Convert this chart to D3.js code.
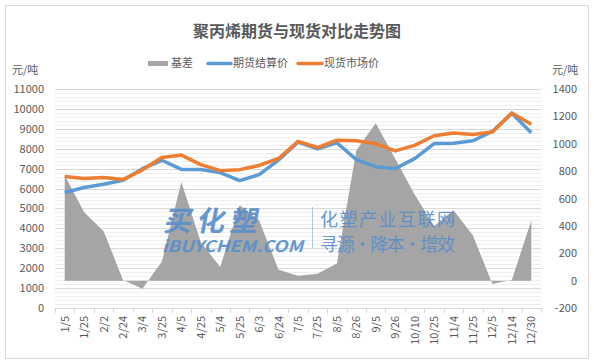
<!DOCTYPE html>
<html>
<head>
<meta charset="utf-8">
<script src="https://cdn.jsdelivr.net/npm/d3@7"></script>
<style>
  body { margin: 0; background: #fff; }
  #chart { width: 594px; height: 362px; }
  text { font-family: "Noto Sans CJK SC", "Liberation Sans", sans-serif; }
</style>
</head>
<body>
<div id="chart"></div>
<script>
// data
const dates = ["1/5","1/25","2/2","2/24","3/4","3/25","4/5","4/25","5/4","5/25","6/3","6/24",
    "7/5","7/25","8/5","8/26","9/5","9/26","10/10","10/25","11/4","11/25","12/5","12/14","12/30"];
const futures = [5800, 6050, 6220, 6420, 7000, 7420, 6960, 6960, 6800, 6400, 6700, 7430,
    8330, 8000, 8300, 7450, 7100, 7000, 7500, 8260, 8270, 8400, 8870, 9780, 8800];
const spot = [6600, 6500, 6560, 6450, 6940, 7560, 7680, 7200, 6900, 6950, 7160, 7510,
    8370, 8060, 8430, 8400, 8250, 7890, 8170, 8650, 8790, 8720, 8845, 9800, 9230];
const basis = [770, 500, 360, 5, -60, 140, 720, 280, 100, 550, 440, 80,
    35, 50, 125, 950, 1150, 890, 630, 400, 515, 330, -25, 5, 440];
const leftTicks = [0,1000,2000,3000,4000,5000,6000,7000,8000,9000,10000,11000];
const rightTicks = [-200,0,200,400,600,800,1000,1200,1400];

const width = 594, height = 362;
const margin = {top: 89, left: 55, right: 53, bottom: 54};

const svg = d3.select("#chart").append("svg")
    .attr("width", width)
    .attr("height", height);

// outer border
svg.append("rect")
    .attr("x", 5.5).attr("y", 5.5)
    .attr("width", width - 11).attr("height", height - 9)
    .attr("fill", "#fff")
    .attr("stroke", "#d9d9d9");

/*
SCALES
*/
const xScale = d3.scaleBand()
    .domain(dates)
    .range([margin.left, width - margin.right]);

const yLeft = d3.scaleLinear()
    .domain([0, 11000])
    .range([height - margin.bottom, margin.top]);

const yRight = d3.scaleLinear()
    .domain([-200, 1400])
    .range([height - margin.bottom, margin.top]);

const cx = function(d, i) { return xScale(dates[i]) + xScale.bandwidth() / 2; };

/*
GRIDLINES
*/
const minor = d3.range(0, 11001, 200).filter(function(v) { return v % 1000 !== 0; });
svg.append("g").selectAll("line")
    .data(minor)
    .enter().append("line")
    .attr("x1", margin.left).attr("x2", width - margin.right)
    .attr("y1", function(d) { return Math.round(yLeft(d)) + 0.5; })
    .attr("y2", function(d) { return Math.round(yLeft(d)) + 0.5; })
    .attr("stroke", "#efefef");

svg.append("g").selectAll("line")
    .data(leftTicks.slice(1))
    .enter().append("line")
    .attr("x1", margin.left).attr("x2", width - margin.right)
    .attr("y1", function(d) { return Math.round(yLeft(d)) + 0.5; })
    .attr("y2", function(d) { return Math.round(yLeft(d)) + 0.5; })
    .attr("stroke", "#d9d9d9");

/*
BASIS AREA (right axis)
*/
const area = d3.area()
    .x(cx)
    .y0(yRight(0))
    .y1(function(d) { return yRight(d); });

svg.append("path")
    .datum(basis)
    .attr("d", area)
    .attr("fill", "#a5a5a5");

/*
WATERMARK
*/
const wm = svg.append("g").attr("fill", "#5b8fcb").attr("opacity", 0.92);
wm.append("text")
    .attr("x", 166).attr("y", 231)
    .attr("font-size", 28).attr("font-weight", "bold")
    .attr("textLength", 94)
    .attr("transform", "translate(42,0) skewX(-11)")
    .text("买化塑");
wm.append("text")
    .attr("x", 162).attr("y", 252)
    .attr("font-family", "Liberation Sans")
    .attr("font-size", 16).attr("font-weight", "bold").attr("font-style", "italic")
    .attr("textLength", 141)
    .attr("lengthAdjust", "spacingAndGlyphs")
    .text("iBUYCHEM.COM");
wm.append("line")
    .attr("x1", 312.5).attr("x2", 312.5).attr("y1", 207).attr("y2", 248)
    .attr("stroke", "#9dc3e6");
wm.append("text")
    .attr("x", 320).attr("y", 226)
    .attr("font-size", 18)
    .attr("textLength", 135)
    .text("化塑产业互联网");
wm.append("text")
    .attr("x", 320).attr("y", 251)
    .attr("font-size", 18)
    .attr("textLength", 135)
    .text("寻源·降本·增效");

/*
LINES
*/
const line = d3.line()
    .x(cx)
    .y(function(d) { return yLeft(d); });

svg.append("path")
    .datum(futures)
    .attr("d", line)
    .attr("fill", "none")
    .attr("stroke", "#5b9bd5")
    .attr("stroke-width", 3.5)
    .attr("stroke-linejoin", "round");

svg.append("path")
    .datum(spot)
    .attr("d", line)
    .attr("fill", "none")
    .attr("stroke", "#ed7d31")
    .attr("stroke-width", 3.5)
    .attr("stroke-linejoin", "round");

/*
AXES
*/
const xAxis = svg.append("g")
    .attr("transform", `translate(0,${height - margin.bottom})`);
xAxis.append("line")
    .attr("x1", margin.left).attr("x2", width - margin.right)
    .attr("y1", 0.5).attr("y2", 0.5)
    .attr("stroke", "#d9d9d9");
xAxis.selectAll(".tk")
    .data(d3.range(dates.length + 1))
    .enter().append("line")
    .attr("x1", function(i) { return Math.round(margin.left + i * xScale.step()) + 0.5; })
    .attr("x2", function(i) { return Math.round(margin.left + i * xScale.step()) + 0.5; })
    .attr("y1", 0).attr("y2", 5)
    .attr("stroke", "#d9d9d9");
xAxis.selectAll(".lbl")
    .data(dates)
    .enter().append("text")
    .attr("transform", function(d) {
        return `translate(${xScale(d) + xScale.bandwidth() / 2 + 4},8) rotate(-90)`;
    })
    .attr("text-anchor", "end")
    .attr("font-size", 11)
    .attr("fill", "#595959")
    .text(function(d) { return d; });

svg.append("g").selectAll("text")
    .data(leftTicks)
    .enter().append("text")
    .attr("x", 44)
    .attr("y", function(d) { return yLeft(d) + 4; })
    .attr("text-anchor", "end")
    .attr("font-family", "Liberation Sans")
    .attr("font-size", 11)
    .attr("fill", "#595959")
    .text(function(d) { return d; });

svg.append("g").selectAll("text")
    .data(rightTicks)
    .enter().append("text")
    .attr("x", 577)
    .attr("y", function(d) { return yRight(d) + 4; })
    .attr("text-anchor", "end")
    .attr("font-family", "Liberation Sans")
    .attr("font-size", 11)
    .attr("fill", "#595959")
    .text(function(d) { return d; });

// unit labels
svg.append("text")
    .attr("x", 12).attr("y", 74)
    .attr("font-size", 11).attr("fill", "#595959")
    .text("元/吨");
svg.append("text")
    .attr("x", 552).attr("y", 74)
    .attr("font-size", 11).attr("fill", "#595959")
    .text("元/吨");

/*
TITLE
*/
svg.append("text")
    .attr("x", 297).attr("y", 37)
    .attr("text-anchor", "middle")
    .attr("font-size", 16)
    .attr("font-weight", "bold")
    .attr("fill", "#595959")
    .text("聚丙烯期货与现货对比走势图");

/*
LEGEND
*/
const legend = svg.append("g").attr("font-size", 11).attr("fill", "#595959");
legend.append("rect")
    .attr("x", 148).attr("y", 61).attr("width", 20).attr("height", 5)
    .attr("fill", "#a5a5a5");
legend.append("text").attr("x", 171).attr("y", 67).text("基差");
legend.append("line")
    .attr("x1", 208).attr("x2", 231).attr("y1", 63.5).attr("y2", 63.5)
    .attr("stroke", "#5b9bd5").attr("stroke-width", 3.5).attr("stroke-linecap", "round");
legend.append("text").attr("x", 233).attr("y", 67).text("期货结算价");
legend.append("line")
    .attr("x1", 298).attr("x2", 322).attr("y1", 63.5).attr("y2", 63.5)
    .attr("stroke", "#ed7d31").attr("stroke-width", 3.5).attr("stroke-linecap", "round");
legend.append("text").attr("x", 324).attr("y", 67).text("现货市场价");
</script>
</body>
</html>
